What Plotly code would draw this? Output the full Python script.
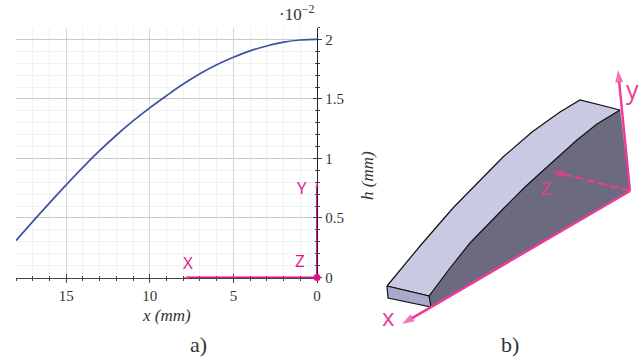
import plotly.graph_objects as go

# positions below are in the reference's 641x360 pixels
W, H = 641, 360
# the photographed page comes out slightly reduced, so draw on this size
FIG_W, FIG_H = 645, 368

# a) curve
x_mm = [18, 17, 16, 15, 14, 13, 12, 11, 10, 9, 8, 7, 6, 5, 4, 3, 2, 1, 0]
h_val = [0.31, 0.47, 0.625, 0.778, 0.925, 1.065, 1.195, 1.315, 1.425, 1.527, 1.625, 1.712, 1.787,
         1.85, 1.904, 1.945, 1.977, 1.995, 2.0]
x_ticks = [15, 10, 5, 0]
y_ticks = [0, 0.5, 1, 1.5, 2]
y_tick_text = ["0", "0.5", "1", "1.5", "2"]
axis_x_end = 8
axis_y_end = 0.8
# a hair below zero, a level line right on the plot edge does not get drawn
y_low = -0.004

# b) outlines of the part, in picture pixels
outer_x = [387, 420, 453, 478, 503, 532, 560, 580]
outer_y = [286, 246, 208, 182, 157, 132, 112, 100]
inner_x = [620, 597, 577, 547, 525, 503, 470, 450, 429]
inner_y = [110, 124, 140, 167, 187, 209, 243, 268, 296]
front_x = [387, 429, 431, 388, 387]
front_y = [286, 296, 307, 298, 286]
origin_b = (630, 191)
tip_y = (618, 70)
tip_x = (402, 324)
tip_z = (551, 171)

PINK = "#e6108c"
PINK_B = "#ee3a96"
SERIF = "Liberation Serif"
SANS = "Open Sans"

fig = go.Figure()

fig.add_trace(go.Scatter(x=x_mm, y=h_val, mode="lines", xaxis="x", yaxis="y",
                         line=dict(color="#3a53a4", width=1.7, shape="spline"),
                         hoverinfo="skip"))
# pink axes on the chart
for ax, ay in [([0, axis_x_end], [0, 0]), ([0, 0], [0, axis_y_end])]:
    fig.add_trace(go.Scatter(x=ax, y=ay, mode="lines+markers", xaxis="x", yaxis="y",
                             line=dict(color=PINK, width=2), cliponaxis=False,
                             marker=dict(symbol="arrow", angleref="previous", size=[0, 6],
                                         color=PINK, line=dict(width=0))))
fig.add_trace(go.Scatter(x=[0], y=[0], mode="markers", xaxis="x", yaxis="y",
                         marker=dict(color=PINK, size=7), cliponaxis=False))
# empty trace so the inward tick axes get drawn
fig.add_trace(go.Scatter(x=[None], y=[None], xaxis="x3", yaxis="y3", mode="lines"))

# b) part
fig.add_trace(go.Scatter(x=inner_x + [431, origin_b[0], inner_x[0]],
                         y=inner_y + [307, origin_b[1], inner_y[0]],
                         mode="lines", xaxis="x2", yaxis="y2", fill="toself",
                         fillcolor="#6b6a7e", line=dict(color="#6b6a7e", width=0.5)))
fig.add_trace(go.Scatter(x=outer_x + inner_x + [outer_x[0]], y=outer_y + inner_y + [outer_y[0]],
                         mode="lines", xaxis="x2", yaxis="y2", fill="toself",
                         fillcolor="#c9c9e3", line=dict(color="#111111", width=1.2)))
fig.add_trace(go.Scatter(x=front_x, y=front_y, mode="lines", xaxis="x2", yaxis="y2",
                         fill="toself", fillcolor="#a9a9cb",
                         line=dict(color="#111111", width=1.2)))

for tip, dash, width in [(tip_y, "solid", 2.4), (tip_x, "solid", 2.4), (tip_z, "9px,3px", 2.2)]:
    fig.add_trace(go.Scatter(x=[origin_b[0], tip[0]], y=[origin_b[1], tip[1]],
                             mode="lines+markers", xaxis="x2", yaxis="y2",
                             line=dict(color=PINK_B, width=width, dash=dash),
                             marker=dict(symbol="arrow", angleref="previous", size=[0, 13],
                                         color=PINK_B, line=dict(width=0))))


def label(px, py, text, size, color="#333333", family=SERIF, angle=0):
    fig.add_annotation(x=px, y=py, xref="x2", yref="y2", text=text, showarrow=False,
                       textangle=angle, font=dict(family=family, size=size, color=color))


label(188, 262, "X", 17, PINK, SANS)
label(302, 187, "Y", 17, PINK, SANS)
label(300, 260, "Z", 17, PINK, SANS)
label(296, 13, "·10<sup>−2</sup>", 17)
label(166, 315, "<i>x (mm)</i>", 17)
label(367, 176, "<i>h (mm)</i>", 17, angle=-90)
label(198, 344, "a)", 22)
label(510, 344, "b)", 22)
label(632, 89, "y", 25, PINK_B, SANS)
label(388, 316, "x", 24, PINK_B, SANS)
label(546, 188, "Z", 18, PINK_B, SANS)

fig.update_layout(
    width=FIG_W, height=FIG_H, margin=dict(l=0, r=0, t=0, b=0), showlegend=False,
    plot_bgcolor="rgba(0,0,0,0)", paper_bgcolor="white", hovermode=False,
    font=dict(family=SERIF, size=15, color="#333333"),
    xaxis=dict(domain=[16 / W, 317 / W], range=[18, 0], anchor="y", layer="below traces",
               tickvals=x_ticks, ticks="outside", ticklen=4, tickcolor="#444444",
               showline=True, linecolor="#444444", linewidth=1.3, zeroline=False,
               showgrid=True, gridcolor="#d6d6d6", gridwidth=1.4,
               minor=dict(dtick=1, showgrid=True, gridcolor="#f1f1f1", gridwidth=1.2,
                          ticks="outside", ticklen=2, tickcolor="#444444")),
    yaxis=dict(domain=[(H - 278) / H, (H - 27.5) / H], range=[y_low, 2.1], anchor="x", side="right",
               layer="below traces", tickvals=y_ticks, ticktext=y_tick_text, ticks="outside",
               ticklen=4, tickcolor="#444444", showline=True, linecolor="#222222", linewidth=1.3,
               zeroline=False, showgrid=True, gridcolor="#c9c9c9", gridwidth=1,
               minor=dict(dtick=0.1, showgrid=True, gridcolor="#f1f1f1", gridwidth=1.2,
                          ticks="outside", ticklen=2, tickcolor="#444444")),
    xaxis3=dict(overlaying="x", range=[18, 0], anchor="y3", showticklabels=False, showgrid=False,
                layer="below traces", zeroline=False, tickvals=x_ticks, ticks="inside", ticklen=4,
                tickcolor="#444444",
                minor=dict(dtick=1, ticks="inside", ticklen=2, tickcolor="#444444")),
    yaxis3=dict(overlaying="y", range=[y_low, 2.1], anchor="x3", side="right", showticklabels=False,
                layer="below traces", showgrid=False, zeroline=False, tickvals=y_ticks,
                ticks="inside", ticklen=4, tickcolor="#444444",
                minor=dict(dtick=0.1, ticks="inside", ticklen=2, tickcolor="#444444")),
    # full-picture axes for the drawing and the loose texts
    xaxis2=dict(domain=[0, 1], range=[0, W], anchor="y2", visible=False),
    yaxis2=dict(domain=[0, 1], range=[H, 0], anchor="x2", visible=False),
)

fig.write_html("out.html", config={"displayModeBar": False},
               post_script="document.body.style.margin='0';")
